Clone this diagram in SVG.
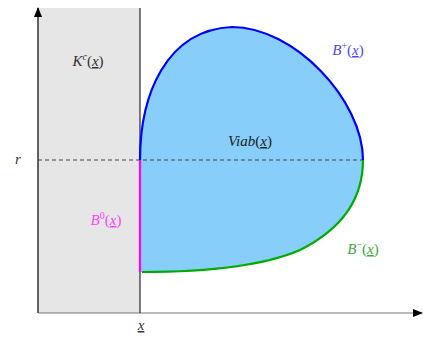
<svg xmlns="http://www.w3.org/2000/svg" width="423" height="338" viewBox="0 0 423 338">
<style>
.t{font-family:"Liberation Serif","DejaVu Serif",serif;font-size:15px;font-style:italic}
.u{text-decoration:underline}
.n{font-style:normal}
.s{font-size:10px}
</style>
<defs>
<marker id="ah" markerWidth="10" markerHeight="8" refX="9" refY="4" orient="auto" markerUnits="userSpaceOnUse">
<path d="M0,0 L10,4 L0,8 Z" fill="#000"/>
</marker>
</defs>
<rect width="423" height="338" fill="#fff"/>
<g id="Kc">
<rect x="38" y="8" width="102" height="305" fill="#e6e6e6"/>
<text class="t" x="88" y="66" text-anchor="middle" fill="#333">K<tspan dy="-6" class="s">c</tspan><tspan dy="6" class="n">(</tspan><tspan class="u">x</tspan><tspan class="n">)</tspan></text>
</g>
<g id="viab">
<path d="M140,160 C140,95 166,30 232,27 C294,27 363,100 363,160 C363,200 340,230 300,250 C270,263 220,272 142,272 L140,272 Z" fill="#87cefa"/>
<text class="t" x="250" y="146" text-anchor="middle" fill="#222">Viab<tspan class="n">(</tspan><tspan class="u">x</tspan><tspan class="n">)</tspan></text>
</g>
<g id="connectors">
<line x1="38" y1="313" x2="38" y2="8" stroke="#000" stroke-width="1.2" marker-end="url(#ah)"/>
<line x1="38" y1="313" x2="422" y2="313" stroke="#777" stroke-width="1.2" marker-end="url(#ah)"/>
<line x1="140" y1="8" x2="140" y2="313" stroke="#000" stroke-width="1"/>
<line x1="38" y1="160" x2="363" y2="160" stroke="#444" stroke-width="1" stroke-dasharray="4,3"/>
</g>
<g id="Bplus">
<path d="M140,160 C140,95 166,30 232,27 C294,27 363,100 363,160" fill="none" stroke="#0000ff" stroke-width="2.2"/>
<text class="t" x="348" y="55" text-anchor="middle" fill="#4848ff">B<tspan dy="-6" class="s n">+</tspan><tspan dy="6" class="n">(</tspan><tspan class="u">x</tspan><tspan class="n">)</tspan></text>
</g>
<g id="Bminus">
<path d="M363,160 C363,200 340,230 300,250 C270,263 220,272 142,272" fill="none" stroke="#00aa00" stroke-width="2.2"/>
<text class="t" x="363" y="254" text-anchor="middle" fill="#3aaa3a">B<tspan dy="-6" class="s n">−</tspan><tspan dy="6" class="n">(</tspan><tspan class="u">x</tspan><tspan class="n">)</tspan></text>
</g>
<g id="B0">
<line x1="140" y1="160" x2="140" y2="272" stroke="#ff00ff" stroke-width="2.2"/>
<text class="t" x="106" y="225" text-anchor="middle" fill="#ff44ff">B<tspan dy="-6" class="s n">0</tspan><tspan dy="6" class="n">(</tspan><tspan class="u">x</tspan><tspan class="n">)</tspan></text>
</g>
<g id="labels">
<text class="t" x="18" y="164" text-anchor="middle" fill="#333">r</text>
<text class="t u" x="141" y="330" text-anchor="middle" fill="#333">x</text>
</g>
</svg>
